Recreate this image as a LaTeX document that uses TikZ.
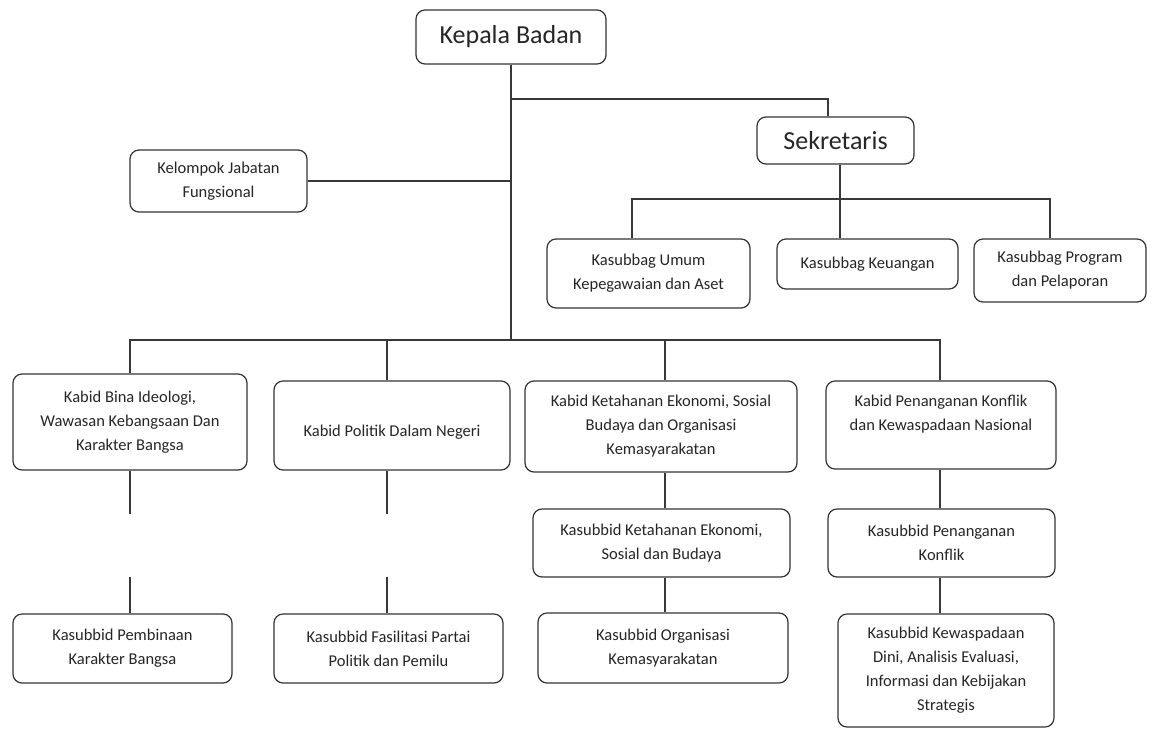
\documentclass[tikz,border=0pt]{standalone}
\usepackage{fontspec}
\setmainfont{Carlito}
\begin{document}
\begin{tikzpicture}[x=1pt,y=-1pt,
  box/.style={draw=black!80, line width=1.2pt, rounded corners=9pt, align=center,
    inner sep=0pt, text=black!85, font=\fontsize{16.5}{24}\selectfont},
  bigbox/.style={box, font=\fontsize{26}{30}\selectfont},
  conn/.style={draw=black!78, line width=1.4pt},
  gapline/.style={conn, dash pattern=on 43pt off 63pt on 60pt}]
\useasboundingbox (0,0) rectangle (1162,729);
\fill[white] (0,0) rectangle (1162,729);

% nodes
\node[bigbox, minimum width=190pt, minimum height=54pt] (kepala) at (511,37) {Kepala Badan};
\node[bigbox, minimum width=157pt, minimum height=47pt] (sek) at (835.5,140.5) {Sekretaris};
\node[box, minimum width=177pt, minimum height=62pt] (kel) at (218.5,181) {Kelompok Jabatan\\Fungsional};

\node[box, minimum width=203pt, minimum height=69pt] (umum) at (648.5,273.5) {Kasubbag Umum\\Kepegawaian dan Aset};
\node[box, minimum width=181pt, minimum height=50pt] (keu) at (867.5,264) {Kasubbag Keuangan};
\node[box, minimum width=172pt, minimum height=63pt] (prog) at (1060,270.5) {Kasubbag Program\\dan Pelaporan};

\node[box, minimum width=234pt, minimum height=96pt] (bina) at (130,422) {Kabid Bina Ideologi,\\Wawasan Kebangsaan Dan\\Karakter Bangsa};
\node[box, minimum width=236pt, minimum height=89pt] (pol) at (392,425.5) {\mbox{}\\Kabid Politik Dalam Negeri};
\node[box, minimum width=272pt, minimum height=91pt] (ket) at (661,426.5) {Kabid Ketahanan Ekonomi, Sosial\\Budaya dan Organisasi\\Kemasyarakatan};
\node[box, minimum width=230pt, minimum height=88pt] (pen) at (941,425) {Kabid Penanganan Konflik\\dan Kewaspadaan Nasional\\\mbox{}};

\node[box, minimum width=257pt, minimum height=68pt] (kseb) at (661.5,543) {Kasubbid Ketahanan Ekonomi,\\Sosial dan Budaya};
\node[box, minimum width=227pt, minimum height=68pt] (kkon) at (941.5,543) {Kasubbid Penanganan\\Konflik};

\node[box, minimum width=219pt, minimum height=69pt] (kpem) at (122.5,648.5) {Kasubbid Pembinaan\\Karakter Bangsa};
\node[box, minimum width=229pt, minimum height=69pt] (kfas) at (388.5,648.5) {Kasubbid Fasilitasi Partai\\Politik dan Pemilu};
\node[box, minimum width=250pt, minimum height=70pt] (korg) at (663,648) {Kasubbid Organisasi\\Kemasyarakatan};
\node[box, minimum width=216pt, minimum height=113pt] (kwas) at (946,670.5) {Kasubbid Kewaspadaan\\Dini, Analisis Evaluasi,\\Informasi dan Kebijakan\\Strategis};

% helper coordinates
\coordinate (topbusR) at (828,99);
\coordinate (sekx) at (840,199);
\coordinate (sbL) at (632,199);
\coordinate (sbR) at (1050,199);
\coordinate (hub) at (511,340);
\coordinate (busL) at (130,340);
\coordinate (busR) at (940,340);
\coordinate (c2) at (387,340);
\coordinate (c3) at (665,340);

% connectors
\draw[conn] (kepala.south) -- (hub);
\draw[conn] (kepala.south |- topbusR) -- (topbusR) -- (sek.north -| topbusR);
\draw[conn] (kel.east) -- (kel.east -| hub);
\draw[conn] (sek.south -| sekx) -- (keu.north -| sekx);
\draw[conn] (umum.north -| sbL) -- (sbL) -- (sbR) -- (prog.north -| sbR);

\draw[conn] (bina.north -| busL) -- (busL) -- (busR) -- (pen.north -| busR);
\draw[conn] (c2) -- (pol.north -| c2);
\draw[conn] (c3) -- (ket.north -| c3);

\draw[gapline] (bina.south -| busL) -- (kpem.north -| busL);
\draw[gapline] (pol.south -| c2) -- (kfas.north -| c2);
\draw[conn] (ket.south -| c3) -- (kseb.north -| c3);
\draw[conn] (kseb.south -| c3) -- (korg.north -| c3);
\draw[conn] (pen.south -| busR) -- (kkon.north -| busR);
\draw[conn] (kkon.south -| busR) -- (kwas.north -| busR);
\end{tikzpicture}
\end{document}
